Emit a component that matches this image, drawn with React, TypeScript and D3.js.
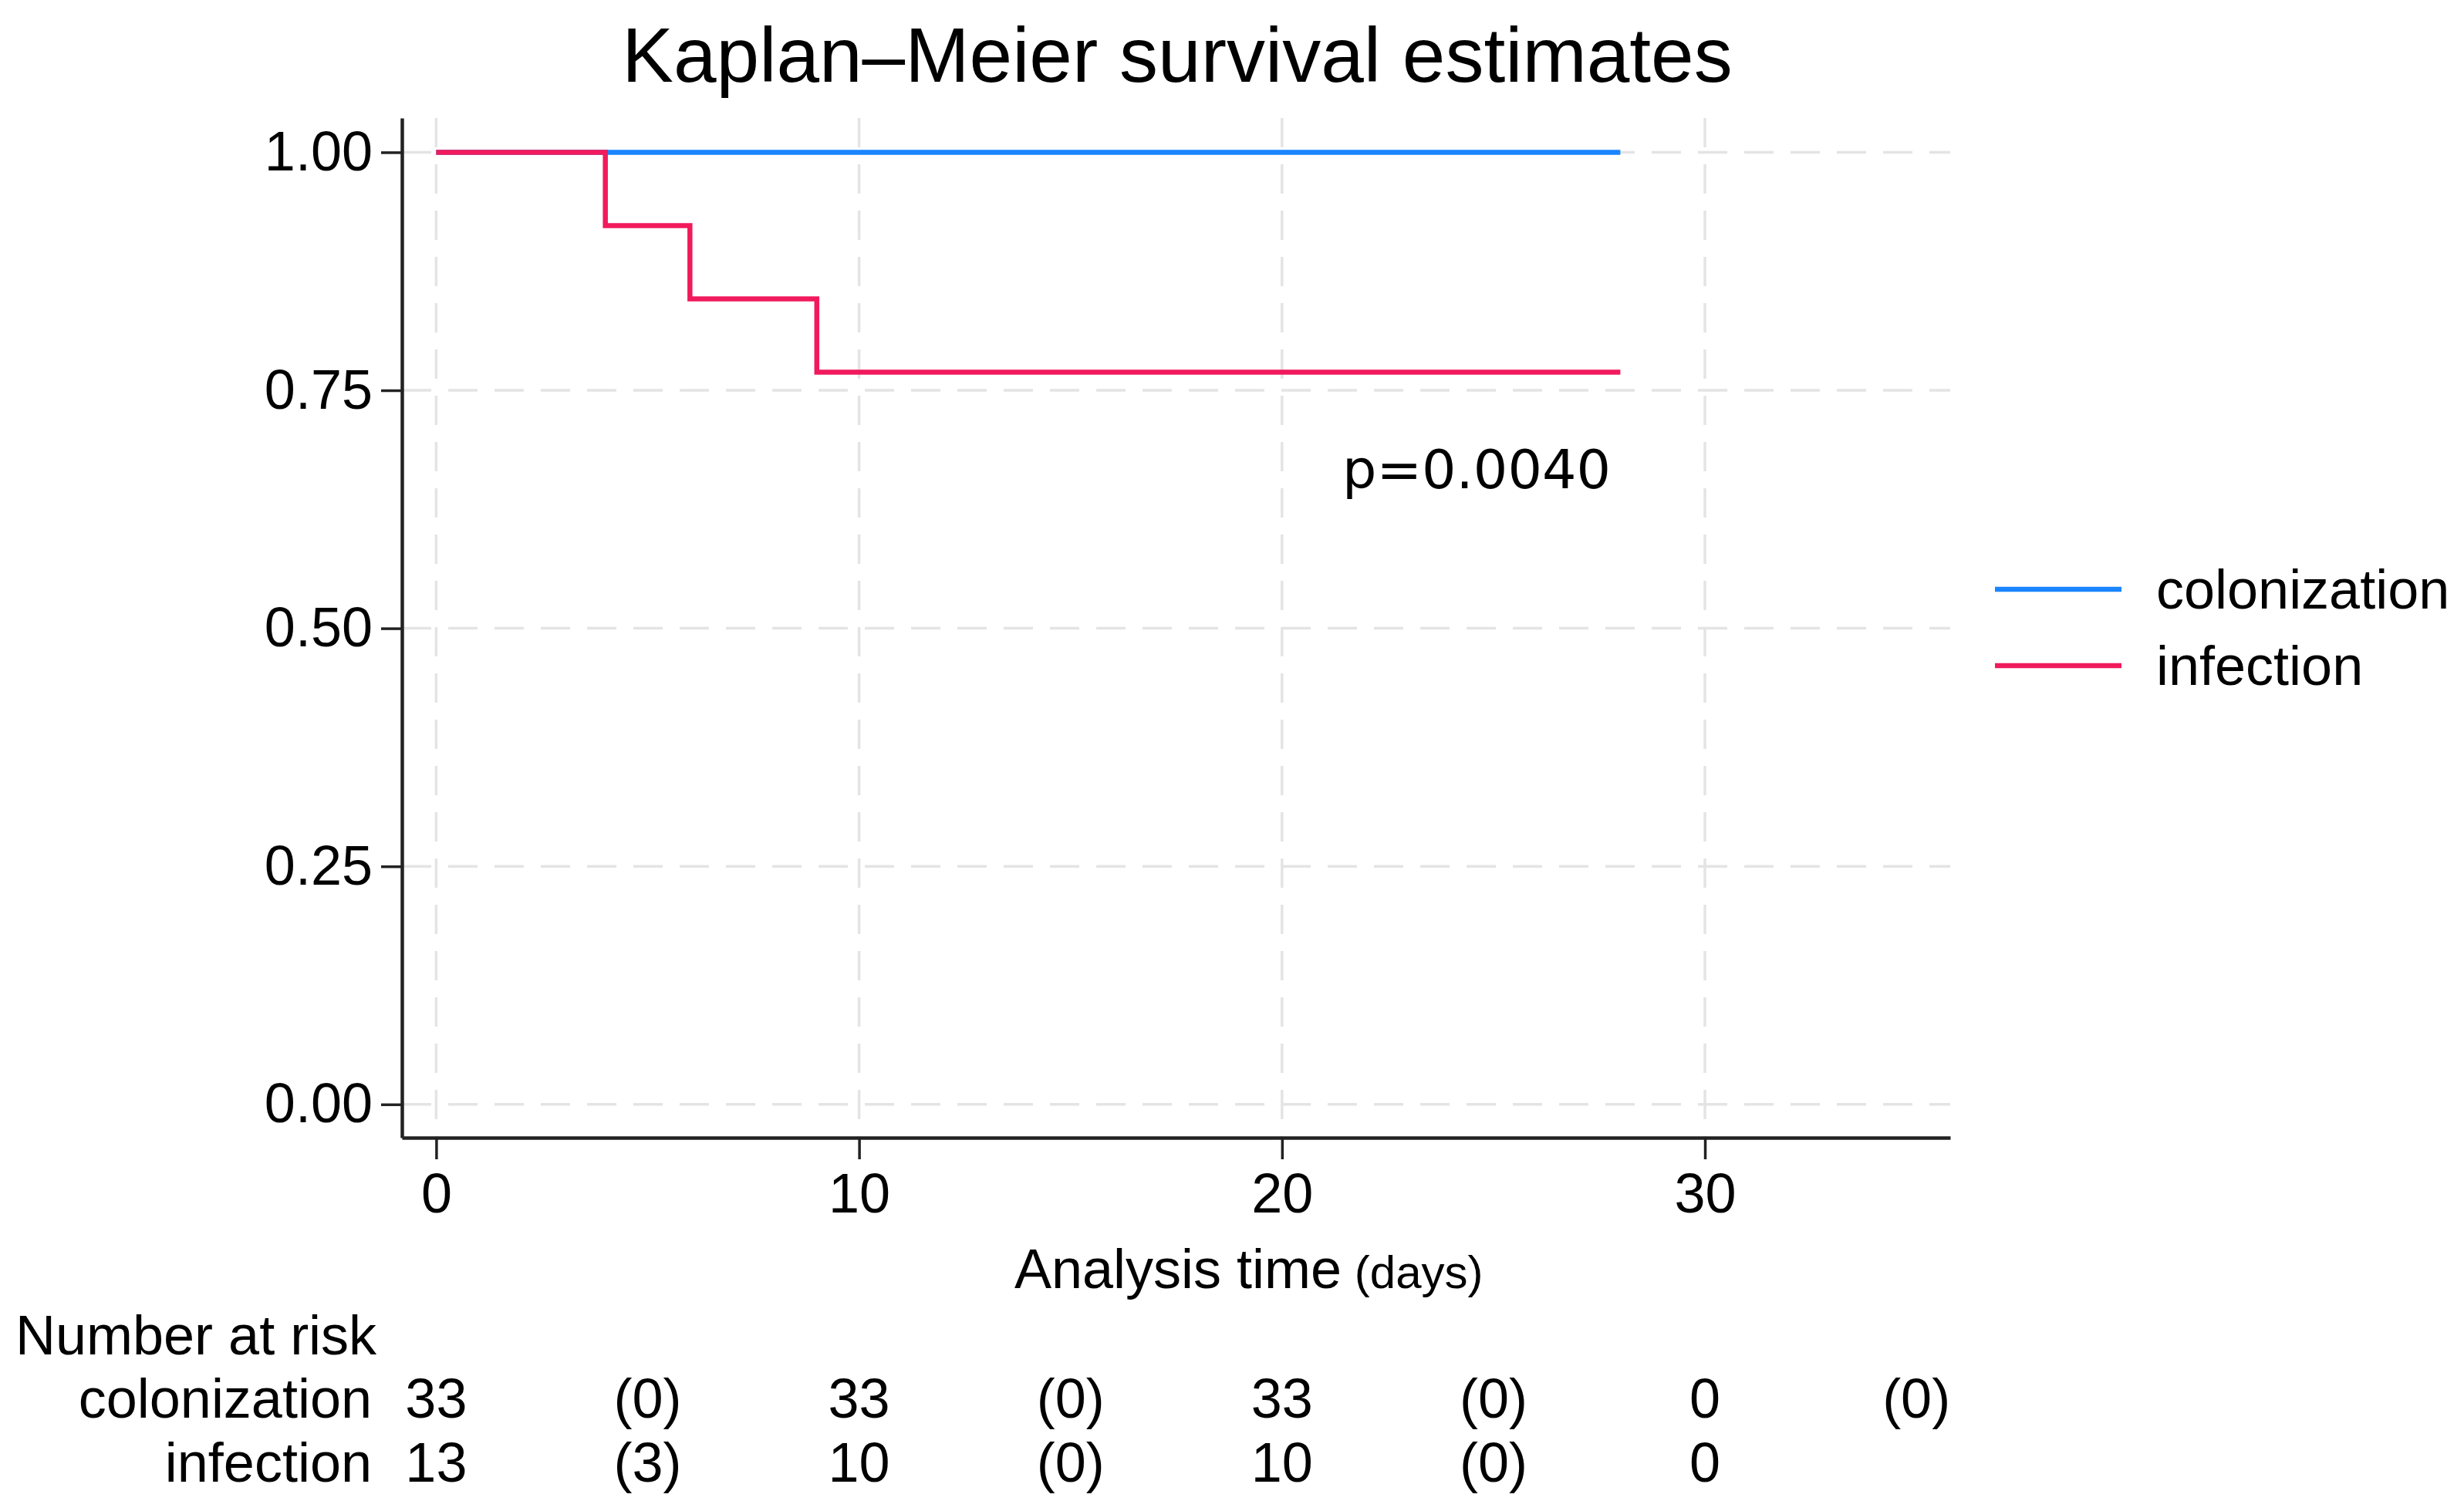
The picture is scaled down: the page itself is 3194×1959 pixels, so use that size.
import React, { useEffect, useRef } from 'react';
import * as d3 from 'd3';

// Kaplan-Meier step estimates
const colonizationTimes = [0, 28];
const colonizationSurv = [1, 1];
const infectionTimes = [0, 4, 6, 9, 28];
const infectionSurv = [1, 0.923, 0.846, 0.769, 0.769];

const yTicks = [0, 0.25, 0.5, 0.75, 1];
const xTicks = [0, 10, 20, 30];

// number at risk table
const riskTimes = [0, 5, 10, 15, 20, 25, 30, 35];
const colonizationRisk = ['33', '(0)', '33', '(0)', '33', '(0)', '0', '(0)'];
const infectionRisk = ['13', '(3)', '10', '(0)', '10', '(0)', '0'];

const seriesNames = ['colonization', 'infection'];
const seriesColors = ['#1a85ff', '#f01a5c'];

const W = 3194;
const H = 1959;
const FONT = '"Liberation Sans", Arial, sans-serif';
const FS = 72;

const App: React.FC = () => {
  const ref = useRef<SVGSVGElement>(null);

  useEffect(() => {
    const svg = d3.select(ref.current);
    svg.selectAll('*').remove();

    const x = d3.scaleLinear().domain([-0.81, 35.8]).range([521, 2528]);
    const y = d3.scaleLinear().domain([-0.035, 1.036]).range([1475, 153]);

    // grid
    const grid = svg.append('g')
      .attr('stroke', '#e4e4e4')
      .attr('stroke-width', 3.5)
      .attr('stroke-dasharray', '38 22');
    grid.selectAll('.hg')
      .data(yTicks)
      .enter()
      .append('line')
      .attr('x1', x.range()[0])
      .attr('x2', x.range()[1])
      .attr('y1', d => y(d))
      .attr('y2', d => y(d));
    grid.selectAll('.vg')
      .data(xTicks)
      .enter()
      .append('line')
      .attr('x1', d => x(d))
      .attr('x2', d => x(d))
      .attr('y1', y.range()[1])
      .attr('y2', y.range()[0]);

    // survival curves
    const line = d3.line<[number, number]>()
      .x(d => x(d[0]))
      .y(d => y(d[1]))
      .curve(d3.curveStepAfter);

    const series = [
      d3.zip(colonizationTimes, colonizationSurv) as [number, number][],
      d3.zip(infectionTimes, infectionSurv) as [number, number][],
    ];
    series.forEach((pts, i) => {
      svg.append('path')
        .datum(pts)
        .attr('d', line)
        .attr('fill', 'none')
        .attr('stroke', seriesColors[i])
        .attr('stroke-width', 6.5);
    });

    // axes
    const yAxis = d3.axisLeft(y)
      .tickValues(yTicks)
      .tickFormat(d3.format('.2f'))
      .tickSize(27)
      .tickSizeOuter(0)
      .tickPadding(11);
    const gy = svg.append('g')
      .attr('transform', `translate(${x.range()[0]},0)`)
      .call(yAxis);

    const xAxis = d3.axisBottom(x)
      .tickValues(xTicks)
      .tickFormat(d3.format('d'))
      .tickSize(28)
      .tickSizeOuter(0)
      .tickPadding(18);
    const gx = svg.append('g')
      .attr('transform', `translate(0,${y.range()[0]})`)
      .call(xAxis);

    [gx, gy].forEach(g => {
      g.attr('font-size', FS).attr('font-family', FONT);
      g.select('.domain').attr('stroke', '#222').attr('stroke-width', 4.5);
      g.selectAll('.tick line').attr('stroke', '#222').attr('stroke-width', 3.5);
      g.selectAll('.tick text').attr('fill', '#000');
    });

    // title
    svg.append('text')
      .attr('x', 1526)
      .attr('y', 106)
      .attr('text-anchor', 'middle')
      .attr('font-family', FONT)
      .attr('font-size', 100)
      .text('Kaplan–Meier survival estimates');

    // x axis title
    const xt = svg.append('text')
      .attr('x', 1315)
      .attr('y', 1670)
      .attr('font-family', FONT)
      .attr('font-size', FS)
      .text('Analysis time');
    xt.append('tspan').attr('font-size', 60).text(' (days)');

    // p value
    svg.append('text')
      .attr('x', 2088)
      .attr('y', 633)
      .attr('text-anchor', 'end')
      .attr('font-family', '"DejaVu Sans", sans-serif')
      .attr('font-size', 70)
      .text('p=0.0040');

    // legend
    const legendY = [764, 863];
    seriesNames.forEach((name, i) => {
      svg.append('line')
        .attr('x1', 2586)
        .attr('x2', 2750)
        .attr('y1', legendY[i])
        .attr('y2', legendY[i])
        .attr('stroke', seriesColors[i])
        .attr('stroke-width', 6.5);
      svg.append('text')
        .attr('x', 2795)
        .attr('y', legendY[i] + 25)
        .attr('font-family', FONT)
        .attr('font-size', FS)
        .text(name);
    });

    // number at risk
    svg.append('text')
      .attr('x', 20)
      .attr('y', 1756)
      .attr('font-family', FONT)
      .attr('font-size', FS)
      .text('Number at risk');

    const rows = [colonizationRisk, infectionRisk];
    const rowY = [1838, 1921];
    rows.forEach((vals, i) => {
      svg.append('text')
        .attr('x', 482)
        .attr('y', rowY[i])
        .attr('text-anchor', 'end')
        .attr('font-family', FONT)
        .attr('font-size', FS)
        .text(seriesNames[i]);
      svg.selectAll(`.risk${i}`)
        .data(vals)
        .enter()
        .append('text')
        .attr('x', (_, j) => x(riskTimes[j]))
        .attr('y', rowY[i])
        .attr('text-anchor', 'middle')
        .attr('font-family', FONT)
        .attr('font-size', FS)
        .text(d => d);
    });
  }, []);

  return (
    <svg
      ref={ref}
      width={W}
      height={H}
      style={{ position: 'absolute', left: 0, top: 0, background: '#fff' }}
    ></svg>
  );
};

export default App;
